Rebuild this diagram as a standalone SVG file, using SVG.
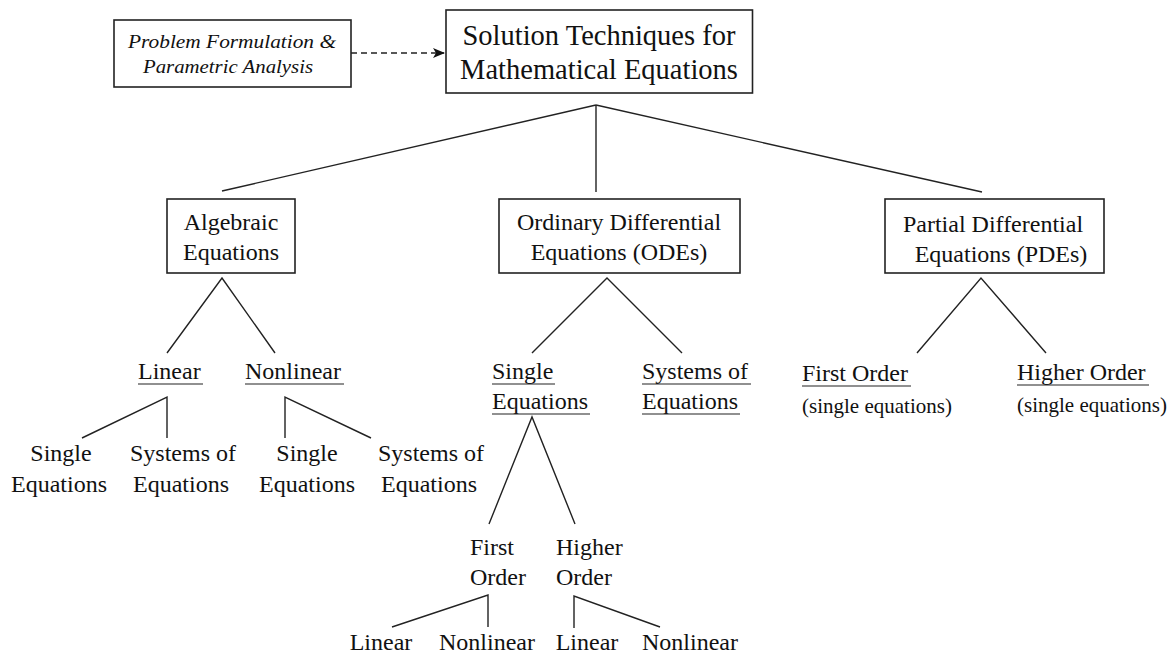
<svg xmlns="http://www.w3.org/2000/svg" width="1174" height="655" viewBox="0 0 1174 655">
<defs>
<style>
text{font-family:"Liberation Serif","Times New Roman",serif;fill:#111;font-size:24px}
.c{text-anchor:middle}
.t{font-size:28.5px}
.it{font-style:italic;font-size:19.5px}
.sm{font-size:21px}
.box{fill:#fff;stroke:#222;stroke-width:1.6}
.ln{stroke:#222;stroke-width:1.4;fill:none}
.ul{stroke:#222;stroke-width:1.2}
</style>
<marker id="ah" markerWidth="12" markerHeight="10" refX="11" refY="5" orient="auto" markerUnits="userSpaceOnUse">
<path d="M0,0 L12,5 L0,10 L3,5 Z" fill="#111"/>
</marker>
</defs>
<rect width="1174" height="655" fill="#fff"/>
<g id="connectors">
<line class="ln" x1="351" y1="53" x2="444" y2="53" stroke-dasharray="6,4" marker-end="url(#ah)"/>
<line class="ln" x1="596" y1="105" x2="222" y2="191"/>
<line class="ln" x1="596" y1="105" x2="596" y2="192"/>
<line class="ln" x1="596" y1="105" x2="982" y2="192"/>
<polyline class="ln" points="167,353 222,278 275,353"/>
<polyline class="ln" points="82,438 167,397 167,438"/>
<polyline class="ln" points="285,438 285,397 371,438"/>
<polyline class="ln" points="532,353 607,278 682,353"/>
<polyline class="ln" points="489,524 532,417 575,524"/>
<polyline class="ln" points="392,627 488,595 488,627"/>
<polyline class="ln" points="574,628 574,596 660,627"/>
<polyline class="ln" points="917,353 981,278 1046,353"/>
</g>
<g id="problem">
<rect class="box" x="114" y="20" width="237" height="67"/>
<text class="c it" x="232" y="48" textLength="208" lengthAdjust="spacingAndGlyphs">Problem Formulation &amp;</text>
<text class="c it" x="228" y="73" textLength="170" lengthAdjust="spacingAndGlyphs">Parametric Analysis</text>
</g>
<g id="root">
<rect class="box" x="446" y="10" width="306.5" height="83"/>
<text class="c t" x="599" y="45">Solution Techniques for</text>
<text class="c t" x="599" y="79">Mathematical Equations</text>
</g>
<g id="algebraic">
<rect class="box" x="167" y="199" width="128" height="74"/>
<text class="c" x="231" y="230">Algebraic</text>
<text class="c" x="231" y="260">Equations</text>
</g>
<g id="ode">
<rect class="box" x="499" y="199" width="241" height="74"/>
<text class="c" x="619" y="230">Ordinary Differential</text>
<text class="c" x="619" y="260">Equations (ODEs)</text>
</g>
<g id="pde">
<rect class="box" x="885" y="199" width="219" height="74"/>
<text class="c" x="993" y="232">Partial Differential</text>
<text class="c" x="1001" y="262">Equations (PDEs)</text>
</g>
<g id="alg-linear">
<text x="138" y="379">Linear</text>
<line class="ul" x1="138" y1="384" x2="203" y2="384"/>
</g>
<g id="alg-nonlinear">
<text x="245" y="379">Nonlinear</text>
<line class="ul" x1="245" y1="384" x2="344" y2="384"/>
</g>
<g id="lin-single">
<text class="c" x="61" y="461">Single</text>
<text class="c" x="59" y="492">Equations</text>
</g>
<g id="lin-systems">
<text class="c" x="183" y="461">Systems of</text>
<text class="c" x="181" y="492">Equations</text>
</g>
<g id="nonlin-single">
<text class="c" x="307" y="461">Single</text>
<text class="c" x="307" y="492">Equations</text>
</g>
<g id="nonlin-systems">
<text class="c" x="431" y="461">Systems of</text>
<text class="c" x="429" y="492">Equations</text>
</g>
<g id="ode-single">
<text x="492" y="379">Single</text>
<line class="ul" x1="492" y1="384" x2="555" y2="384"/>
<text x="492" y="409">Equations</text>
<line class="ul" x1="492" y1="414" x2="590" y2="414"/>
</g>
<g id="ode-systems">
<text x="642" y="379">Systems of</text>
<line class="ul" x1="642" y1="384" x2="751" y2="384"/>
<text x="642" y="409">Equations</text>
<line class="ul" x1="642" y1="414" x2="740" y2="414"/>
</g>
<g id="ode-first">
<text x="470" y="555">First</text>
<text x="470" y="585">Order</text>
</g>
<g id="ode-higher">
<text x="556" y="555">Higher</text>
<text x="556" y="585">Order</text>
</g>
<g id="first-linear"><text class="c" x="381" y="650">Linear</text></g>
<g id="first-nonlinear"><text class="c" x="487" y="650">Nonlinear</text></g>
<g id="higher-linear"><text class="c" x="587" y="650">Linear</text></g>
<g id="higher-nonlinear"><text class="c" x="690" y="650">Nonlinear</text></g>
<g id="pde-first">
<text x="802" y="381">First Order</text>
<line class="ul" x1="802" y1="386" x2="911" y2="386"/>
<text class="sm" x="802" y="413">(single equations)</text>
</g>
<g id="pde-higher">
<text x="1017" y="380">Higher Order</text>
<line class="ul" x1="1017" y1="385" x2="1149" y2="385"/>
<text class="sm" x="1017" y="412">(single equations)</text>
</g>
</svg>
